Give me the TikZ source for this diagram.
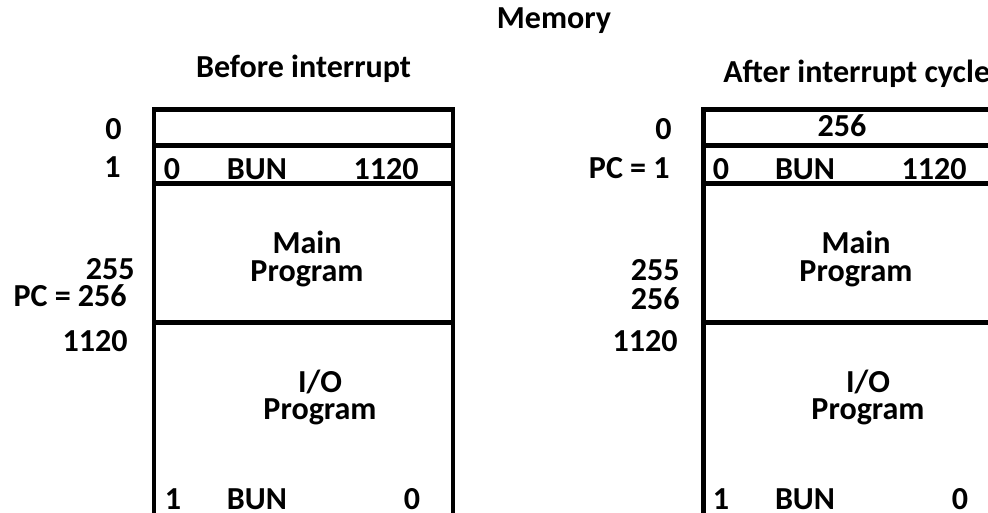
\documentclass[tikz,border=0pt]{standalone}
\usepackage{fontspec}
\setmainfont{Carlito}
\usetikzlibrary{positioning}

\begin{document}
\begin{tikzpicture}[
  cell/.style={draw, line width=3.5pt, minimum width=7.475cm,
               inner sep=0pt, anchor=north west},
  txt/.style={font=\fontsize{22.8}{19.5}\selectfont\bfseries, inner sep=0pt},
  addr/.style={txt, anchor=base east},
  word/.style={txt, anchor=base},
  prog/.style={txt, align=center},
]
\clip (0,0) rectangle (24.7,12.825);

% ---- Titles ----
\node[word] (memory) at (13.85, 12.1) {Memory};
\node[word] (before) at (7.59, 10.875) {Before interrupt};
\node[txt, anchor=base west] (after) at (18.075, 10.75) {After interrupt cycle};

% ---- Memory before interrupt ----
\node[cell, minimum height=0.9125cm] (bword0) at (3.7875, 10.15) {};
\node[cell, minimum height=0.95cm] (bword1) at (3.7875, 9.2375) {};
\node[cell, minimum height=3.4625cm] (bmain) at (3.7875, 8.2875) {};
\node[cell, minimum height=5.5cm] (bio) at (3.7875, 4.825) {};

\node[addr] (ba0) at (3.05, 9.325) {0};
\node[addr] (ba1) at (3.025, 8.375) {1};
\node[addr] (ba255) at (3.375, 5.825) {255};
\node[addr] (bapc) at (3.175, 5.15) {PC = 256};
\node[addr] (ba1120) at (3.2, 4.025) {1120};

\node[word] (bi) at (4.3, 8.325) {0};
\node[word] (bop) at (6.425, 8.325) {BUN};
\node[word] (bad) at (9.65, 8.325) {1120};
\node[prog] (bmaintxt) at (7.675, 6.35) {Main\\Program};
\node[prog] (biotxt) at (8.0, 2.89) {I/O\\Program};
\node[word] (bri) at (4.325, 0.09) {1};
\node[word] (brop) at (6.425, 0.09) {BUN};
\node[word] (brad) at (10.3, 0.09) {0};

% ---- Memory after interrupt cycle ----
\node[cell, minimum height=0.9125cm] (aword0) at (17.525, 10.15) {};
\node[cell, minimum height=0.95cm] (aword1) at (17.525, 9.2375) {};
\node[cell, minimum height=3.4625cm] (amain) at (17.525, 8.2875) {};
\node[cell, minimum height=5.5cm] (aio) at (17.525, 4.825) {};

\node[addr] (aa0) at (16.8, 9.325) {0};
\node[addr] (aapc) at (16.75, 8.35) {PC = 1};
\node[addr] (aa255) at (17.0, 5.8) {255};
\node[addr] (aa256) at (17.0, 5.075) {256};
\node[addr] (aa1120) at (16.95, 4.025) {1120};

\node[word] (aret) at (21.05, 9.4) {256};
\node[word] (ai) at (18.025, 8.325) {0};
\node[word] (aop) at (20.125, 8.325) {BUN};
\node[word] (aad) at (23.35, 8.325) {1120};
\node[prog] (amaintxt) at (21.4, 6.35) {Main\\Program};
\node[prog] (aiotxt) at (21.7, 2.89) {I/O\\Program};
\node[word] (ari) at (18.025, 0.09) {1};
\node[word] (arop) at (20.125, 0.09) {BUN};
\node[word] (arad) at (24.0, 0.09) {0};

\end{tikzpicture}
\end{document}
